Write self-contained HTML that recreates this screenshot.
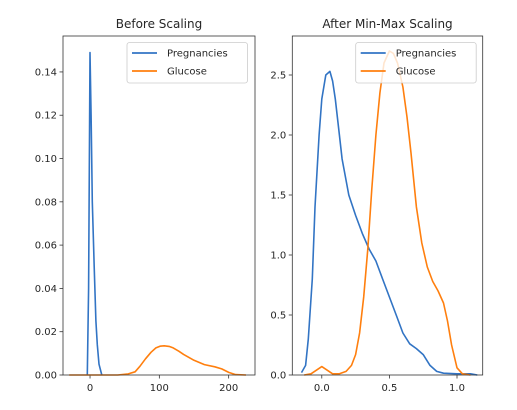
<!DOCTYPE html>
<html><head><meta charset="utf-8"><style>
body{margin:0;background:#fff;font-family:"DejaVu Sans","Liberation Sans",sans-serif;}
svg text{font-family:"DejaVu Sans","Liberation Sans",sans-serif;fill:#262626;}
</style></head><body>
<svg id="c" width="517" height="406" xmlns="http://www.w3.org/2000/svg"></svg>
<script>
const leftPregX=[-4,-2,0,1.5,3.3,6,8.5,10.5,13,17];
const leftPregY=[0,0.04,0.149,0.12,0.08,0.05,0.025,0.014,0.005,0];
const leftGluX=[-30,0,40,55,65,72,80,88,95,101,107,114,120,128,135,150,165,180,190,200,210,225];
const leftGluY=[0,0,0,0.0005,0.0015,0.004,0.0075,0.0105,0.0125,0.0133,0.0135,0.0132,0.0125,0.011,0.0095,0.0068,0.0048,0.0038,0.0028,0.0012,0.0002,0];
const rightPregX=[-0.15,-0.12,-0.1,-0.07,-0.05,-0.02,0.0,0.03,0.06,0.08,0.1,0.13,0.15,0.2,0.25,0.3,0.35,0.4,0.45,0.5,0.55,0.6,0.65,0.7,0.75,0.8,0.85,0.9,1.0,1.1,1.15];
const rightPregY=[0.02,0.08,0.3,0.8,1.4,2.0,2.3,2.5,2.53,2.45,2.3,2.0,1.8,1.5,1.33,1.18,1.05,0.95,0.8,0.65,0.5,0.35,0.26,0.22,0.17,0.08,0.03,0.015,0.01,0.01,0];
const rightGluX=[-0.13,-0.08,-0.04,0.0,0.04,0.08,0.13,0.18,0.22,0.25,0.28,0.31,0.34,0.37,0.4,0.43,0.46,0.5,0.53,0.56,0.6,0.63,0.66,0.7,0.74,0.78,0.82,0.86,0.9,0.93,0.96,1.0,1.04,1.1];
const rightGluY=[0,0.01,0.04,0.07,0.04,0.01,0.01,0.03,0.08,0.17,0.35,0.65,1.05,1.55,2.0,2.35,2.6,2.7,2.68,2.6,2.4,2.15,1.85,1.4,1.1,0.9,0.78,0.7,0.6,0.45,0.25,0.06,0.01,0];
const leftYTicks=[0,0.02,0.04,0.06,0.08,0.10,0.12,0.14];
const leftYLabels=["0.00","0.02","0.04","0.06","0.08","0.10","0.12","0.14"];
const leftXTicks=[0,100,200];
const leftXLabels=["0","100","200"];
const rightYTicks=[0,0.5,1,1.5,2,2.5];
const rightYLabels=["0.0","0.5","1.0","1.5","2.0","2.5"];
const rightXTicks=[0,0.5,1];
const rightXLabels=["0.0","0.5","1.0"];
const svg=document.getElementById('c');
const NS='http://www.w3.org/2000/svg';
function mk(t,a,p){const e=document.createElementNS(NS,t);for(const k in a)e.setAttribute(k,a[k]);(p||svg).appendChild(e);return e;}
function panel(o){
  const g=mk('g',{});
  
  
  const sx=v=>o.x0+(v-o.xmin)/(o.xmax-o.xmin)*(o.x1-o.x0);
  const sy=v=>o.y1-(v-o.ymin)/(o.ymax-o.ymin)*(o.y1-o.y0);
  o.yt.forEach((v,i)=>{const y=sy(v);mk('line',{x1:o.x0-3.5,x2:o.x0,y1:y,y2:y,stroke:'#333','stroke-width':0.8},g);
    const t=mk('text',{x:o.x0-6,y:y+3.5,'text-anchor':'end','font-size':'10'},g);t.textContent=o.yl[i];
    
    });
  o.xt.forEach((v,i)=>{const x=sx(v);mk('line',{x1:x,x2:x,y1:o.y1,y2:o.y1+3.5,stroke:'#333','stroke-width':0.8},g);
    const t=mk('text',{x:x,y:o.y1+16,'text-anchor':'middle','font-size':'10'},g);t.textContent=o.xl[i];
    
    });
  o.series.forEach(s=>{const pts=s.x.map((v,i)=>sx(v).toFixed(1)+','+sy(s.y[i]).toFixed(1)).join(' ');
    const p=mk('polyline',{points:pts,fill:'none',stroke:s.c,'stroke-width':1.6,'stroke-linejoin':'round'},g);
    
    });
  mk('rect',{x:o.x0,y:o.y0,width:o.x1-o.x0,height:o.y1-o.y0,fill:'none',stroke:'#333','stroke-width':0.8},g);
  const tt=mk('text',{x:(o.x0+o.x1)/2,y:28,'text-anchor':'middle','font-size':'12'},g);tt.textContent=o.title;
  
  
  const lg=mk('g',{},g);
  
  
  mk('rect',{x:o.lx,y:42.5,width:120.5,height:40.5,rx:2.5,fill:'rgba(255,255,255,0.8)',stroke:'#ccc','stroke-width':0.8},lg);
  [['Pregnancies','#3274c4',53],['Glucose','#ff7f0e',71]].forEach(([n,c,y])=>{
    mk('line',{x1:o.lx+5,x2:o.lx+30,y1:y,y2:y,stroke:c,'stroke-width':1.8},lg);
    const t=mk('text',{x:o.lx+40,y:y+3.5,'font-size':'10'},lg);t.textContent=n;
    
    });
}
panel({name:'before-scaling-panel',title:'Before Scaling',x0:63,x1:255,y0:36,y1:375,xmin:-39,xmax:238,ymin:0,ymax:0.1566,
  yt:leftYTicks,yl:leftYLabels,xt:leftXTicks,xl:leftXLabels,lx:127,
  series:[{x:leftPregX,y:leftPregY,c:'#3274c4',n:'pregnancies-line'},{x:leftGluX,y:leftGluY,c:'#ff7f0e',n:'glucose-line'}]});
panel({name:'after-scaling-panel',title:'After Min-Max Scaling',x0:292.3,x1:482.7,y0:36,y1:375,xmin:-0.218,xmax:1.19,ymin:0,ymax:2.825,
  yt:rightYTicks,yl:rightYLabels,xt:rightXTicks,xl:rightXLabels,lx:355.7,
  series:[{x:rightPregX,y:rightPregY,c:'#3274c4',n:'pregnancies-line'},{x:rightGluX,y:rightGluY,c:'#ff7f0e',n:'glucose-line'}]});
</script>
</body></html>
